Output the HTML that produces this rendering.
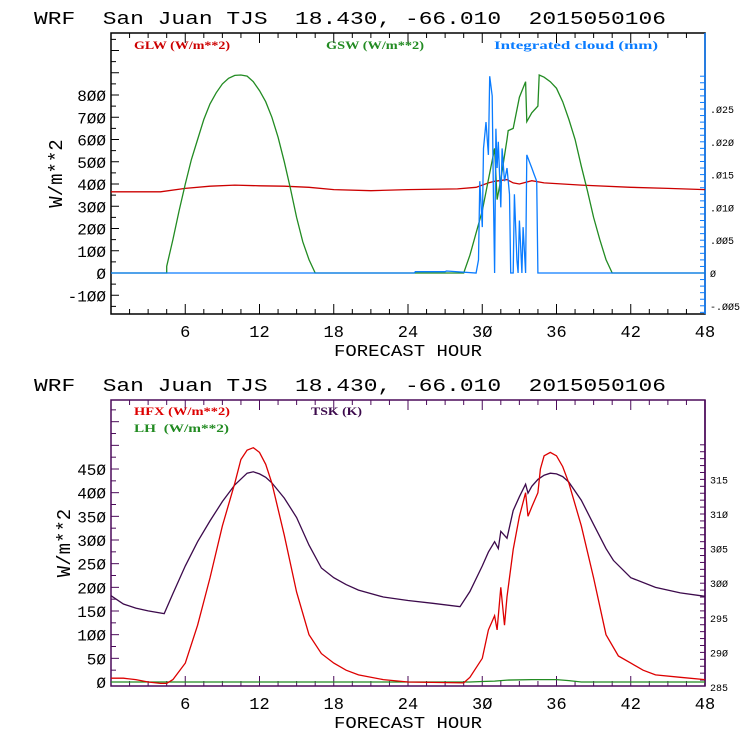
<!DOCTYPE html>
<html><head><meta charset="utf-8"><style>
body{margin:0;background:#fff;width:740px;height:740px;overflow:hidden}
</style></head><body>
<svg id="s" width="740" height="740" xmlns="http://www.w3.org/2000/svg"></svg>
<script>
// ---- data ----
const gswHours=[0,4.5,4.5,5,5.5,6,6.5,7,7.5,8,8.5,9,9.5,10,10.5,11,11.5,12,12.5,13,13.5,14,14.5,15,15.5,16,16.5,28.5,29,30,30.5,31,31.2,31.5,32,32.1,32.5,33,33.5,33.6,34,34.5,34.6,35,35.5,36,36.5,37,37.5,38,38.5,39,39.5,40,40.5,48];
const gswVals=[0,0,30,150,280,400,510,600,690,760,810,850,875,888,890,885,860,820,770,700,610,500,380,250,140,60,0,0,80,280,420,560,330,420,600,640,650,790,860,680,720,750,890,880,860,830,770,690,600,480,370,250,150,60,0,0];
const glwHours=[0,4,6,8,10,12,14,16,18,21,24,28,29.5,30.5,31,32,32.5,33,34,35,38,42,45,48];
const glwVals=[365,365,380,390,395,392,390,385,375,370,375,378,385,405,412,420,405,400,415,405,395,385,380,375];
const cloudHours=[0,24.5,24.6,27,27.1,29.5,29.7,29.8,30,30.1,30.3,30.5,30.6,30.8,30.9,31,31.1,31.2,31.3,31.5,31.6,31.8,32,32.2,32.3,32.5,32.6,32.8,32.9,33,33.2,33.3,33.5,33.6,33.8,34,34.2,34.4,34.5,48];
const cloudVals=[0,0,0.0002,0.0002,0.0003,0,0.002,0.014,0.007,0.019,0.023,0.018,0.030,0.027,0.012,0,0.022,0.016,0.020,0.010,0.019,0.014,0.016,0.012,0,0,0.012,0.002,0,0.008,0,0.007,0,0.018,0.017,0.016,0.015,0.014,0,0];
const hfxHours=[0,1,2,3,4,4.5,5,6,7,8,9,10,10.5,11,11.5,12,12.5,13,14,15,16,17,18,19,20,22,24,28.5,29,30,30.5,31,31.2,31.5,31.8,32,32.5,33,33.5,33.7,34,34.5,34.7,35,35.5,36,36.5,37,38,39,40,41,42,43,44,46,48];
const hfxVals=[8,8,5,0,-3,-3,5,40,120,220,330,420,470,490,495,485,460,420,310,190,100,60,40,25,15,5,0,-2,10,50,110,140,110,200,120,180,280,350,400,350,370,400,450,478,485,478,455,420,330,220,100,55,40,25,15,10,5];
const lhHours=[0,29,30,31,32,34,36,37,38,48];
const lhVals=[0,0,1,2,4,5,5,3,0,0];
const tskHours=[0,1,2,3,4.3,5,6,7,8,9,10,11,11.5,12,12.5,13,14,15,16,17,18,19,20,22,24,26,28.2,29,30,30.5,31,31.3,31.5,32,32.5,33,33.5,33.7,34,34.5,35,35.5,36,36.5,37,38,39,40,40.6,42,44,46,48];
const tskVals=[298.2,297,296.4,296,295.6,298.5,302.5,306,309,311.8,314.2,315.9,316.1,315.8,315.3,314.5,312.3,309.5,305.5,302.2,300.8,299.8,299,298,297.5,297.1,296.6,298.8,302.5,304.5,306,305,307.5,306.5,310.5,312.5,314.3,313,314,315,315.6,315.9,315.8,315.4,314.6,312,308.5,305,303.3,300.8,299.4,298.6,298.1];
const xTicks=[6,12,18,24,30,36,42,48];
const topLeftTicks=[-100,0,100,200,300,400,500,600,700,800];
const topRightTicks=[-0.005,0,0.005,0.010,0.015,0.020,0.025];
const topRightLabels=["-.005","0",".005",".010",".015",".020",".025"];
const botLeftTicks=[0,50,100,150,200,250,300,350,400,450];
const botRightTicks=[285,290,295,300,305,310,315];

const S=document.getElementById('s');const NS='http://www.w3.org/2000/svg';
function el(t,a,p){const e=document.createElementNS(NS,t);for(const k in a)e.setAttribute(k,a[k]);(p||S).appendChild(e);return e;}
function txt(x,y,s,a,p){const e=el('text',Object.assign({x:x,y:y},a),p);e.textContent=s;return e;}
const X0=111,X1=705;const xs=h=>X0+(X1-X0)*h/48;
const MONO='Liberation Mono, monospace';

function panel(o){
  const g=el('g',{});
  
  
  const t=txt(34,o.titleY,'WRF  San Juan TJS  18.430, -66.010  2015050106',{'font-size':'18','fill':'#000','textLength':'632','lengthAdjust':'spacingAndGlyphs','font-family':MONO,'xml:space':'preserve',style:'white-space:pre'},g);
  
  const fr=el('rect',{x:X0,y:o.top,width:X1-X0,height:o.bot-o.top,fill:'none',stroke:o.frame,'stroke-width':1.5},g);
  
  el('line',{x1:X1,y1:o.top,x2:X1,y2:o.bot,stroke:o.rframe,'stroke-width':1.5},g);
  for(let h=1.5;h<48;h+=1.5){const x=xs(h);const L=(h%6===0)?10:5;
    el('line',{x1:x,y1:o.bot,x2:x,y2:o.bot-L,stroke:o.frame},g);el('line',{x1:x,y1:o.top,x2:x,y2:o.top+L,stroke:o.frame},g);}
  xTicks.forEach(h=>{const l=txt(xs(h),o.bot+23,String(h).replace(/0/g,'Ø'),{'font-size':'17','text-anchor':'middle','font-family':MONO},g);
    });
  const xl=txt(408,o.bot+42,'FORECAST HOUR',{'font-size':'17','text-anchor':'middle','font-family':MONO,'textLength':'148','lengthAdjust':'spacingAndGlyphs'},g);
  
  for(let v=o.lmin;v<=o.lmax+1e-9;v+=o.lminor){const y=o.ly(v);if(y<o.top||y>o.bot)continue;
    el('line',{x1:X0,y1:y,x2:X0+((Math.round(v/o.lminor)%2===0)?8:5),y2:y,stroke:o.frame},g);}
  o.lticks.forEach(v=>{const l=txt(X0-5,o.ly(v)+6,String(v).replace(/0/g,'Ø'),{'font-size':'16','text-anchor':'end','font-family':MONO},g);
    });
  const yl=txt(0,0,'W/m**2',{'font-size':'19','text-anchor':'middle','font-family':MONO,transform:'translate('+o.ylx+','+((o.top+o.bot)/2)+') rotate(-90)'},g);
  
  for(let v=o.rmin;v<=o.rmax+1e-9;v+=o.rminor){const y=o.ry(v);if(y<o.top||y>o.bot)continue;
    el('line',{x1:X1,y1:y,x2:X1-5,y2:y,stroke:o.rframe},g);}
  o.rticks.forEach((v,i)=>{const l=txt(X1+5,o.ry(v)+4,o.rlabels[i].replace(/0/g,'Ø'),{'font-size':'10','font-family':MONO},g);
    });
  return g;
}
function line(g,hs,vs,f,col,name){
  const d=hs.map((h,i)=>(i?'L':'M')+xs(h).toFixed(1)+','+f(vs[i]).toFixed(1)).join('');
  const p=el('path',{d:d,fill:'none',stroke:col,'stroke-width':1.3},g);
  
}
function leg(g,x,y,s,c,w,name){const l=txt(x,y,s,{'font-size':'12','fill':c,'font-family':'Liberation Serif, serif','font-weight':'bold','textLength':w,'lengthAdjust':'spacingAndGlyphs','xml:space':'preserve',style:'white-space:pre'},g);
  }

const tly=v=>273-v*0.2225, tr=v=>273-v*6560;
const g1=panel({name:'top-panel',titleY:24,top:33,bot:314,frame:'#000',rframe:'#0a7cff',ly:tly,ry:tr,lmin:-150,lmax:1100,lminor:50,lticks:topLeftTicks,ylx:62,
  rmin:-0.006,rmax:0.03,rminor:0.001,rticks:topRightTicks,rlabels:topRightLabels});
line(g1,glwHours,glwVals,tly,'#cc0000','glw-line');
line(g1,gswHours,gswVals,tly,'#228b22','gsw-line');
line(g1,cloudHours,cloudVals,tr,'#0a7cff','cloud-line');
leg(g1,134,49,'GLW (W/m**2)','#cc0000',96,'legend-glw');
leg(g1,326,49,'GSW (W/m**2)','#228b22',98,'legend-gsw');
leg(g1,494,49,'Integrated cloud (mm)','#0a7cff',164,'legend-cloud');

const bly=v=>682-v*0.4733, bry=v=>687-(v-285)*6.92;
const g2=panel({name:'bottom-panel',titleY:391,top:400,bot:686,frame:'#4b0a5a',rframe:'#4b0a5a',ly:bly,ry:bry,lmin:0,lmax:600,lminor:25,lticks:botLeftTicks,ylx:70,
  rmin:285,rmax:320,rminor:1,rticks:botRightTicks,rlabels:botRightTicks.map(String)});
line(g2,lhHours,lhVals,bly,'#228b22','lh-line');
line(g2,tskHours,tskVals,bry,'#3c0a4c','tsk-line');
line(g2,hfxHours,hfxVals,bly,'#dd0000','hfx-line');
leg(g2,134,415,'HFX (W/m**2)','#dd0000',96,'legend-hfx');
leg(g2,134,432,'LH  (W/m**2)','#228b22',95,'legend-lh');
leg(g2,311,415,'TSK (K)','#3c0a4c',51,'legend-tsk');
</script>
</body></html>
